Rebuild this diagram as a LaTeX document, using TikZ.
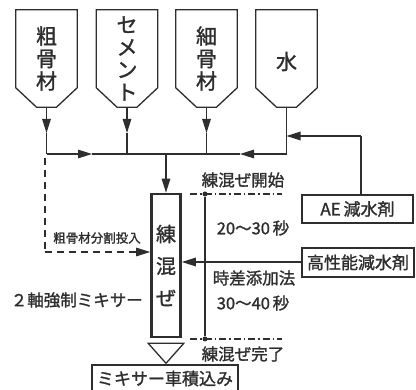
\documentclass[tikz,border=0pt]{standalone}
\usepackage{fontspec}
\setmainfont{Noto Sans CJK JP}[FakeBold=1.3]
\usetikzlibrary{arrows.meta,calc}
\definecolor{ink}{HTML}{2E2E2E}
\tikzset{
  base/.style={draw=ink,line width=1.3pt,text=ink},
  tri/.style={-{Triangle[length=14pt,width=8.5pt]}},
  hopper/.style={inner sep=0pt,minimum width=61pt,minimum height=97pt,align=center,
    font=\fontsize{21}{22.5}\selectfont,text=ink},
  box/.style={draw=ink,line width=1.4pt,inner sep=0pt,text=ink,font=\fontsize{17}{20}\selectfont},
  lbl/.style={inner sep=0pt,text=ink,font=\fontsize{16.5}{20}\selectfont},
  small/.style={inner sep=0pt,text=ink,font=\fontsize{12.5}{14}\selectfont},
  dashdot/.style={draw=ink,line width=1.2pt,dash pattern=on 7pt off 3pt on 1.5pt off 3pt},
  dashline/.style={draw=ink,line width=1.2pt,dash pattern=on 7pt off 5pt},
  dot/.style={circle,fill=ink,inner sep=0pt,minimum size=5pt}
}
\begin{document}
\begin{tikzpicture}[x=1pt,y=-1pt]
\useasboundingbox[fill=white] (0,0) rectangle (416,390);
% hoppers
\node[hopper] (h1) at (46.5,58.5) {粗\\骨\\材};
\node[hopper] (h2) at (127,58.5) {セ\\メ\\ン\\ト};
\node[hopper] (h3) at (206.5,58.5) {細\\骨\\材};
\node[hopper,yshift=-3pt] (h4) at (286.5,58.5) {水};
\foreach \h in {h1,h2,h3}{
  \draw[base] (\h.north west) -- (\h.north east) -- ([yshift=-78pt]\h.north east)
    -- ([xshift=10pt]\h.south) -- ([xshift=-10pt]\h.south) -- ([yshift=-78pt]\h.north west) -- cycle;
}
\draw[base] ([yshift=3pt]h4.north west) -- ([yshift=3pt]h4.north east) -- ([yshift=-75pt]h4.north east)
    -- ([xshift=10pt,yshift=3pt]h4.south) -- ([xshift=-10pt,yshift=3pt]h4.south) -- ([yshift=-75pt]h4.north west) -- cycle;
\coordinate (h4b) at ([yshift=3pt]h4.south);
% bus
\coordinate (busy) at (0,154);
\coordinate (arry) at (0,133);
\foreach \h/\i in {h1/1,h2/2,h3/3}{
  \coordinate (j\i) at (\h.south |- busy);
  \coordinate (a\i) at (\h.south |- arry);
  \draw[base,tri] (\h.south) -- (a\i);
  \draw[base] (a\i) -- (j\i);
}
\coordinate (j4) at (h4b |- busy);
\draw[base] (h4b) -- (j4);
\coordinate (ba1) at (92,154);
\coordinate (ba2) at (240,154);
\draw[base,tri] (j1) -- (ba1);
\draw[base] (ba1) -- (j2) -- (j3) -- (ba2);
\draw[base,tri] (j4) -- (ba2);
% mixer
\node[draw=ink,line width=2.6pt,minimum width=29pt,minimum height=143pt,inner sep=0pt,
  align=center,text=ink,font=\fontsize{20}{32}\selectfont] (mix) at (166,265.5) {練\\混\\ぜ};
\coordinate (jm) at (mix.north |- busy);
\draw[base,tri] (jm) -- (mix.north);
% dashed input
\coordinate (d1) at (45,158);
\coordinate (d2) at (45,252);
\draw[dashline] (d1) -- (d2);
\draw[dashline,tri] (d2) -- (mix.west |- d2);
\node[small] (split) at (97,238) {粗骨材分割投入};
% admixtures
\node[box,minimum width=111pt,minimum height=28pt] (ae) at (357.5,209) {AE\,減水剤};
\node[box,minimum width=112pt,minimum height=29pt] (hp) at (358,262.5) {高性能減水剤};
\coordinate (ae1) at (361,136);
\coordinate (ae2) at (h4b |- ae1);
\draw[base] (ae1 |- ae.north) -- (ae1);
\draw[base,tri] (ae1) -- (ae2);
\draw[base,tri] (hp.west |- 0,262) -- (mix.east |- 0,262);
% time line
\node[dot] (t1) at (205,194) {};
\node[dot] (t2) at (205,339) {};
\draw[base] (t1) -- (t2);
\coordinate (s1) at (190,194);
\coordinate (e1) at (282,194);
\coordinate (s2) at (190,339);
\coordinate (e2) at (282,339);
\draw[dashdot] (s1) -- (e1);
\draw[dashdot] (s2) -- (e2);
\node[lbl] (start) at (243,180) {練混ぜ開始};
\node[lbl] (t20) at (253,228) {20〜30\,秒};
\node[lbl] (jisa) at (254,278) {時差添加法};
\node[lbl] (t30) at (253,303) {30〜40\,秒};
\node[lbl] (end) at (243,354) {練混ぜ完了};
\node[lbl,anchor=east] (twin) at (143,300) {２軸強制ミキサー};
% outlet
\draw[base] ([xshift=-2pt,yshift=-5pt]mix.south west) -- ([xshift=2pt,yshift=-5pt]mix.south east) -- ([yshift=-25pt]mix.south) -- cycle;
\node[box,minimum width=146pt,minimum height=27pt] (truck) at (165,378.5) {ミキサー車積込み};
\end{tikzpicture}
\end{document}
